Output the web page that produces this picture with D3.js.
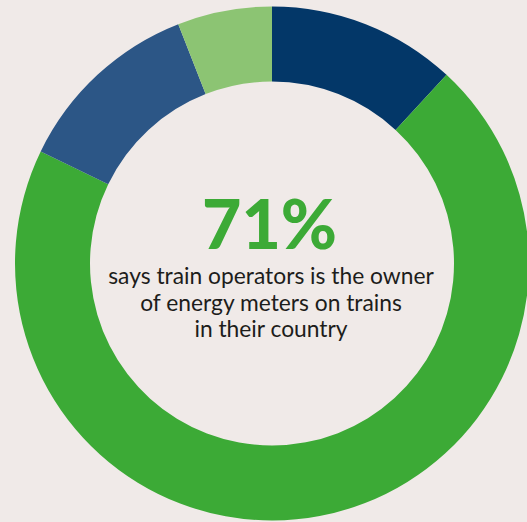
<!DOCTYPE html>
<html>
<head>
<meta charset="utf-8">
<script src="https://cdn.jsdelivr.net/npm/d3@7"></script>
<style>
  html, body { margin: 0; padding: 0; background: #f0eae8; }
  svg { display: block; }
</style>
</head>
<body>
<svg id="chart" width="527" height="522"></svg>
<script>
// Who owns the energy meters on trains (share of answers)
const categories = ["Infrastructure manager", "Train operators", "Other", "Don't know"];
const values = [12, 71, 12, 6];
const colors = ["#033768", "#3caa36", "#2c5686", "#8cc473"];

const headline = "71%";
const captionLines = [
  "says train operators is the owner",
  "of energy meters on trains",
  "in their country"
];

const width = 527, height = 522;
const cx = 272, cy = 263.5;
const outerR = 257, innerR = 182;

const svg = d3.select("#chart");
const g = svg.append("g").attr("transform", `translate(${cx},${cy})`);

const pie = d3.pie().sort(null).value(d => d.value);
const arc = d3.arc().innerRadius(innerR).outerRadius(outerR);

const data = categories.map((c, i) => ({ name: c, value: values[i], color: colors[i] }));

g.selectAll("path.slice")
  .data(pie(data))
  .join("path")
  .attr("class", "slice")
  .attr("d", arc)
  .attr("fill", d => d.data.color);

// Centre label
g.append("text")
  .attr("x", -2.5)
  .attr("y", -14.5)
  .attr("text-anchor", "middle")
  .attr("font-family", "Lato, 'Noto Sans', sans-serif")
  .attr("font-weight", 900)
  .attr("font-size", 68)
  .attr("fill", "#3caa36")
  .text(headline);

g.selectAll("text.caption")
  .data(captionLines)
  .join("text")
  .attr("class", "caption")
  .attr("x", -1)
  .attr("y", (d, i) => 20.5 + i * 26.5)
  .attr("text-anchor", "middle")
  .attr("font-family", "Lato, 'Noto Sans', sans-serif")
  .attr("font-size", 22.8)
  .attr("fill", "#1d1d1b")
  .text(d => d);
</script>
</body>
</html>
